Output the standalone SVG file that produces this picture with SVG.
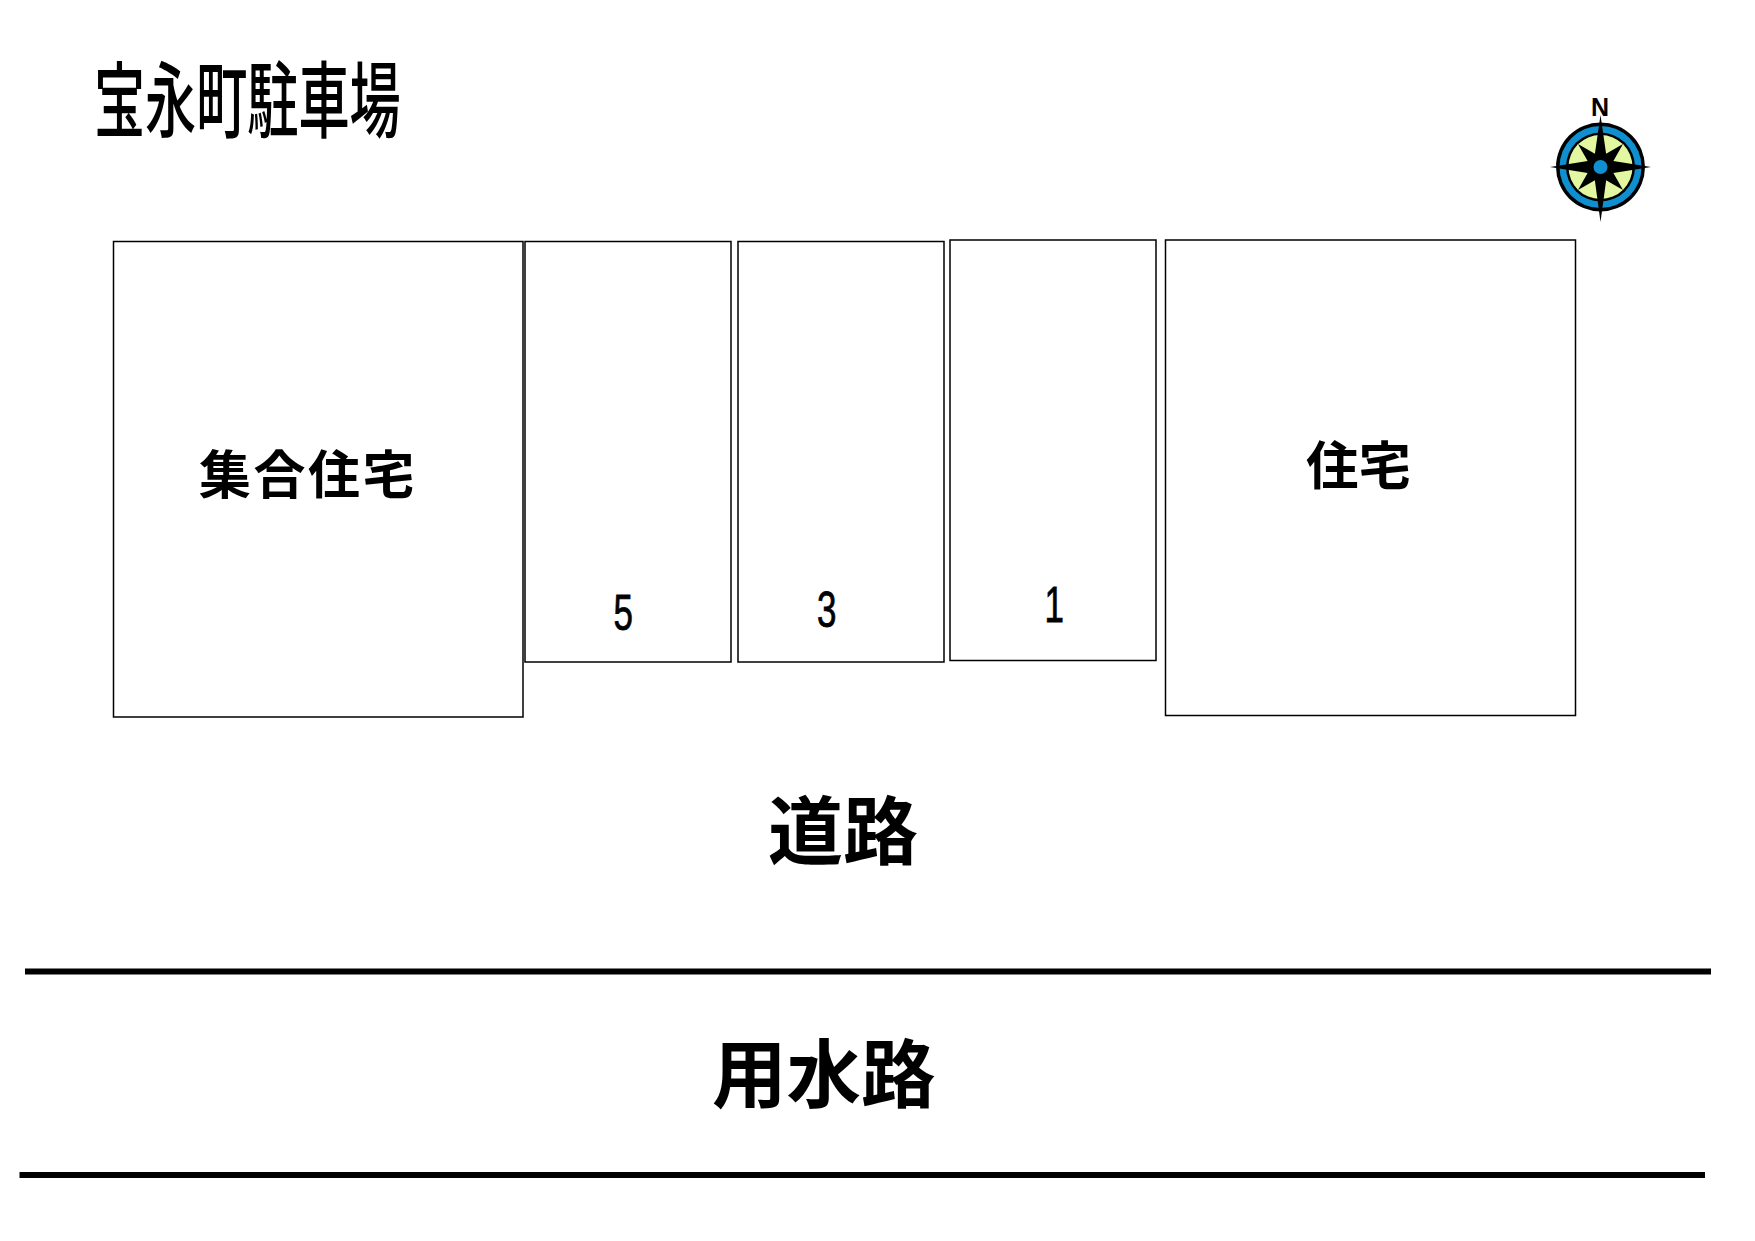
<svg xmlns="http://www.w3.org/2000/svg" width="1755" height="1241" viewBox="0 0 1755 1241">
<style>
.lot{fill:#fff;stroke:#000;stroke-width:1.5}
.t{font-family:"Noto Sans CJK JP","Liberation Sans",sans-serif;fill:#000}
.b{font-weight:700}
.n{font-family:"Liberation Sans","Noto Sans CJK JP",sans-serif;font-size:50px;fill:#000;stroke:#000;stroke-width:.8}
.w{stroke:#000;stroke-width:6}
</style>
<rect width="1755" height="1241" fill="#fff"/>
<g id="title"><text class="t" transform="translate(94 131) scale(.616 1)" font-size="83" font-weight="500">宝永町駐車場</text></g>
<g id="lot-apartment"><rect class="lot" x="113.500" y="241.500" width="409.500" height="475.500"/><text class="t b" x="199" y="494" font-size="52" letter-spacing="2.500">集合住宅</text></g>
<g id="lot-5"><rect class="lot" x="525" y="241.500" width="206" height="420.500"/><text class="n" transform="translate(613.500 630) scale(.7 1)">5</text></g>
<g id="lot-3"><rect class="lot" x="738" y="241.500" width="206" height="420.500"/><text class="n" transform="translate(817 627) scale(.7 1)">3</text></g>
<g id="lot-1"><rect class="lot" x="950" y="240" width="206" height="420.500"/><text class="n" transform="translate(1044.500 622) scale(.7 1)">1</text></g>
<g id="lot-house"><rect class="lot" x="1165.500" y="240" width="410" height="475.500"/><text class="t b" x="1306" y="485" font-size="52.500">住宅</text></g>
<g id="road"><text class="t b" x="768" y="859" font-size="75">道路</text></g>
<g id="canal"><text class="t b" x="712" y="1102" font-size="74.500">用水路</text></g>
<g id="connectors"><line class="w" x1="25" y1="971.500" x2="1711" y2="971.500"/><line class="w" x1="19.500" y1="1175" x2="1705" y2="1175"/></g>
<g id="compass">
<text x="1600" y="116" font-family="Liberation Sans,sans-serif" font-weight="700" font-size="25" text-anchor="middle">N</text>
<circle cx="1600.500" cy="167" r="44.500" fill="#000"/><circle cx="1600.500" cy="167" r="41" fill="#0f8fd0"/><circle cx="1600.500" cy="167" r="34.500" fill="#000"/><circle cx="1600.500" cy="167" r="32" fill="#e2f7a0"/>
<polygon fill="#000" points="1623,144 1610,167 1623,190 1600.500,177 1578,190 1591,167 1578,144 1600.500,157"/>
<polygon fill="#000" points="1600.500,115 1607,160 1651,167 1607,174 1600.500,222 1594,174 1550,167 1594,160"/>
<circle cx="1600.500" cy="167" r="7" fill="#0f8fd0"/>
</g>
</svg>
